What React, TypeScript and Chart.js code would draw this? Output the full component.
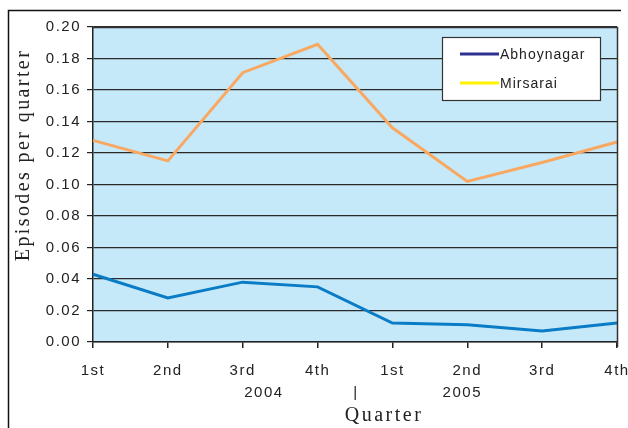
import React, { useEffect, useRef } from "react";
import { Chart, registerables } from "chart.js";

Chart.register(...registerables);

const quarters = ["1st", "2nd", "3rd", "4th", "1st", "2nd", "3rd", "4th"];
const abhoynagar = [0.043, 0.028, 0.038, 0.035, 0.012, 0.011, 0.007, 0.012];
const mirsarai = [0.128, 0.115, 0.171, 0.189, 0.136, 0.102, 0.114, 0.127];
const seriesNames = ["Abhoynagar", "Mirsarai"];
const legendColors = ["#2e3192", "#fff200"];
const lineColors = ["#0a7cc6", "#f9a862"];
const yearLabels = ["2004", "|", "2005"];
const yearPositions = [2.27, 3.5, 4.92];
const yTitle = "Episodes per quarter";
const xTitle = "Quarter";

const SANS = '"Liberation Sans", Arial, sans-serif';
const SERIF = '"Liberation Serif", "Times New Roman", serif';

const decorPlugin = {
  id: "decor",
  beforeDraw(chart: any) {
    const { ctx, chartArea } = chart;
    ctx.save();
    ctx.fillStyle = "#ffffff";
    ctx.fillRect(0, 0, chart.width, chart.height);
    ctx.fillStyle = "#c6e9f9";
    ctx.fillRect(chartArea.left, chartArea.top, chartArea.right - chartArea.left, chartArea.bottom - chartArea.top);
    ctx.restore();
    (ctx as any).letterSpacing = "1.5px";
  },
  afterDraw(chart: any) {
    const { ctx, chartArea, scales } = chart;
    ctx.save();
    // outer frame
    ctx.strokeStyle = "#111";
    ctx.lineWidth = 1.5;
    ctx.beginPath();
    ctx.moveTo(8.5, 428);
    ctx.lineTo(8.5, 10.5);
    ctx.lineTo(621, 10.5);
    ctx.stroke();
    // plot right/top border
    ctx.strokeStyle = "#333";
    ctx.lineWidth = 1.5;
    ctx.beginPath();
    ctx.moveTo(chartArea.left, chartArea.top + 0.5);
    ctx.lineTo(chartArea.right + 0.5, chartArea.top + 0.5);
    ctx.lineTo(chartArea.right + 0.5, chartArea.bottom + 5);
    ctx.stroke();

    // year row
    const x = scales.x;
    ctx.fillStyle = "#222";
    ctx.font = `15px ${SANS}`;
    (ctx as any).letterSpacing = "1.5px";
    ctx.textAlign = "center";
    ctx.textBaseline = "middle";
    yearLabels.forEach((t, i) => {
      ctx.fillText(t, x.getPixelForValue(yearPositions[i]) + 1, 393);
    });

    // x title
    ctx.font = `20px ${SERIF}`;
    (ctx as any).letterSpacing = "2.5px";
    ctx.fillText(xTitle, 384, 416);

    // y title
    ctx.save();
    ctx.translate(24, 156);
    ctx.rotate(-Math.PI / 2);
    ctx.font = `20px ${SERIF}`;
    (ctx as any).letterSpacing = "2.4px";
    ctx.fillText(yTitle, 1, 0);
    ctx.restore();

    // legend
    const lx = 442, ly = 37, lw = 158, lh = 63;
    ctx.fillStyle = "#ffffff";
    ctx.fillRect(lx, ly, lw, lh);
    ctx.strokeStyle = "#333";
    ctx.lineWidth = 1.2;
    ctx.strokeRect(lx + 0.5, ly + 0.5, lw, lh);
    ctx.font = `14px ${SANS}`;
    (ctx as any).letterSpacing = "1px";
    ctx.textAlign = "left";
    seriesNames.forEach((name, i) => {
      const yy = 54 + i * 29;
      ctx.strokeStyle = legendColors[i];
      ctx.lineWidth = 3;
      ctx.beginPath();
      ctx.moveTo(460, yy);
      ctx.lineTo(499, yy);
      ctx.stroke();
      ctx.fillStyle = "#222";
      ctx.fillText(name, 500, yy + 1);
    });
    ctx.restore();
    (ctx as any).letterSpacing = "0px";
  },
};

export default function App() {
  const ref = useRef<HTMLCanvasElement | null>(null);
  useEffect(() => {
    if (!ref.current) return;
    const chart = new Chart(ref.current, {
      type: "line",
      data: {
        labels: quarters,
        datasets: [
          {
            label: seriesNames[0],
            data: abhoynagar,
            borderColor: lineColors[0],
            borderWidth: 3,
            pointRadius: 0,
            tension: 0,
          },
          {
            label: seriesNames[1],
            data: mirsarai,
            borderColor: lineColors[1],
            borderWidth: 3,
            pointRadius: 0,
            tension: 0,
          },
        ],
      },
      options: {
        responsive: false,
        animation: false,
        layout: { padding: { left: 0, right: 11, top: 27, bottom: 0 } },
        plugins: {
          legend: { display: false },
          tooltip: { enabled: false },
        },
        scales: {
          x: {
            type: "category",
            offset: false,
            afterFit(scale: any) {
              scale.height = 86;
              scale.paddingLeft = 0;
              scale.paddingRight = 0;
            },
            grid: {
              display: true,
              drawOnChartArea: false,
              drawTicks: true,
              tickLength: 6,
              color: "#222",
              lineWidth: 1.5,
            },
            border: { display: true, color: "#222", width: 1.5 },
            ticks: {
              color: "#222",
              font: { family: SANS, size: 15 },
              padding: 14,
              maxRotation: 0,
              autoSkip: false,
            },
          },
          y: {
            min: 0,
            max: 0.2,
            afterFit(scale: any) {
              scale.width = 93;
              scale.paddingTop = 0;
              scale.paddingBottom = 0;
            },
            grid: {
              color: "#2a2a2a",
              lineWidth: 1.2,
              tickLength: 6,
              tickColor: "#222",
            },
            border: { display: true, color: "#222", width: 1.5 },
            ticks: {
              stepSize: 0.02,
              color: "#222",
              font: { family: SANS, size: 15 },
              padding: 6,
              callback: (v: any) => Number(v).toFixed(2),
            },
          },
        },
      },
      plugins: [decorPlugin],
    });
    return () => chart.destroy();
  }, []);
  return (
    <div style={{ position: "fixed", left: 0, top: 0, width: 628, height: 428 }}>
      <canvas ref={ref} width={628} height={428} style={{ display: "block" }} />
    </div>
  );
}
